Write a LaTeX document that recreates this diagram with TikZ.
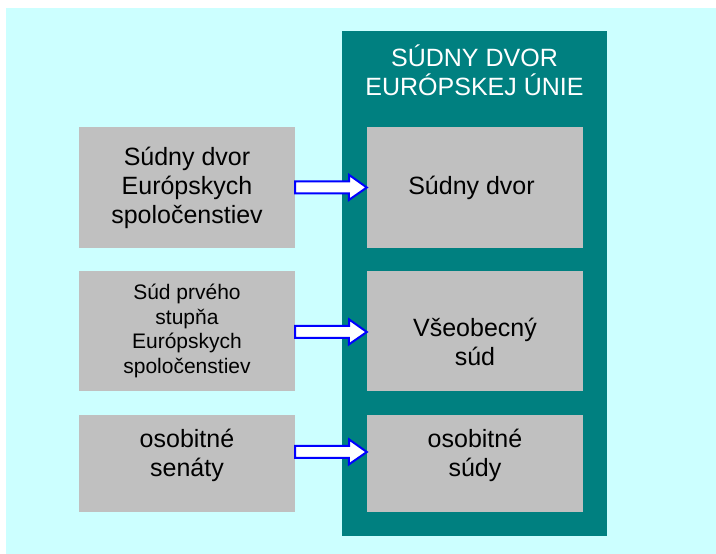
\documentclass[tikz,border=0pt]{standalone}
\usepackage{fontspec}
\setmainfont{Liberation Sans}
\usepackage{tikz}
\usetikzlibrary{positioning}
\definecolor{bgcyan}{RGB}{204,255,255}
\definecolor{courtteal}{RGB}{0,128,128}
\definecolor{boxgray}{RGB}{192,192,192}

\begin{document}
\begin{tikzpicture}[x=1pt ,y=1pt ,on grid ,node distance = 144pt and 288pt ,box/.style ={ fill=boxgray ,minimum width =216pt ,minimum height =121pt ,inner sep=0pt ,align=center ,font=\fontsize{25}{29}\selectfont}, smallbox/.style ={ box ,font=\fontsize{21}{24.5}\selectfont}, label/.style ={ inner sep=0pt ,align=center ,font=\fontsize{25}{29}\selectfont}, barrow/.style ={ draw=blue ,fill=white ,line width=2pt ,line join=miter}]
\useasboundingbox (0,0) rectangle (716,554);
\fill[bgcyan] (6,0) rectangle (716,546);
\node[fill=courtteal ,minimum width=265pt ,minimum height=505pt ,inner sep=0pt] (eu) at (474.5,270.5) {};
\node[label ,text=white] (title) at (474.5,484) {SÚDNY DVOR\\EURÓPSKEJ ÚNIE};
\node[box] (l1) at (187,366.5) { Súdny dvor\\Európskych\\spoločenstiev };
\node[smallbox ,minimum height=120pt] (l2) at (187,223) { Súd prvého\\stupňa\\Európskych\\spoločenstiev };
\node[box ,minimum height=97pt] (l3) at (187,90.5) {};
\node[label] (l3t) at ([yshift=8]l3.center) { osobitné\\senáty };
\node[box] (r1) [right = of l1] { Súdny dvor };
\node[box ,minimum height=120pt] (r2) [right = of l2] {};
\node[label] (r2t) at ([yshift=-11]r2.center) { Všeobecný\\súd };
\node[box ,minimum height=97pt] (r3) [right = of l3] {};
\node[label] (r3t) at ([yshift=8]r3.center) { osobitné\\súdy };
\draw[barrow] ([yshift=6]l1.east) -- ++(54,0) -- ++(0,6.5) -- (r1.west) -- ++(-18,-12.5) -- ++(0,6.5) -- ([yshift=-6]l1.east) -- cycle;
\draw[barrow] ([yshift=5]l2.east) -- ++(54,0) -- ++(0,6.5) -- ([yshift=-1]r2.west) -- ++(-18,-12.5) -- ++(0,6.5) -- ([yshift=-7]l2.east) -- cycle;
\draw[barrow] ([yshift=17.5]l3.east) -- ++(54,0) -- ++(0,6.5) -- ([yshift=11.5]r3.west) -- ++(-18,-12.5) -- ++(0,6.5) -- ([yshift=5.5]l3.east) -- cycle;
\end{tikzpicture}
\end{document}
